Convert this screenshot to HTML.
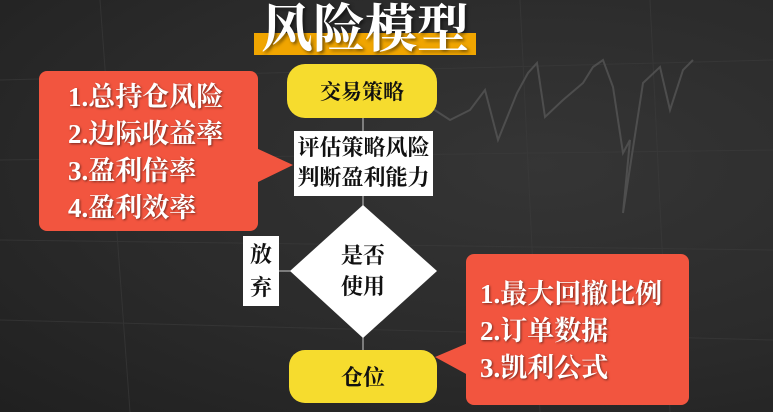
<!DOCTYPE html>
<html><head><meta charset="utf-8"><style>
body{margin:0;width:773px;height:412px;overflow:hidden;background:#2b2b2b;font-family:"Liberation Serif","Noto Serif CJK SC",serif;}
#stage{position:relative;width:773px;height:412px;background:radial-gradient(ellipse at 70% 40%,#353535 0%,#2b2b2b 55%,#202020 100%);}
.abs{position:absolute;}
.callout-text{color:#fff;font-weight:bold;font-size:27px;text-shadow:1px 1px 2px rgba(0,0,0,.5);line-height:37px;white-space:nowrap;}
</style></head><body>
<div id="stage">
<svg class="abs" style="left:0;top:0" width="773" height="412">
 <g stroke="#3c3c3c" stroke-width="1" opacity=".6">
  <line x1="0" y1="80" x2="773" y2="60"/><line x1="0" y1="160" x2="773" y2="150"/>
  <line x1="0" y1="240" x2="773" y2="250"/><line x1="0" y1="320" x2="773" y2="340"/>
  <line x1="100" y1="0" x2="130" y2="412"/><line x1="520" y1="0" x2="540" y2="412"/><line x1="650" y1="0" x2="670" y2="412"/>
 </g>
 <polyline fill="none" stroke="#555" stroke-width="2" opacity=".8" points="430,107 450,120 470,110 485,90 498,140 517,93 528,73 537,63 545,117 563,100 583,83 593,67 603,60 613,87 623,153 630,140 623,213 643,83 660,67 670,110 683,70 693,60"/>
</svg>
<div class="abs" style="left:254px;top:33px;width:222px;height:22px;background:#f0a500"></div>
<div class="abs" style="left:254px;top:3px;width:222px;text-align:center;color:#fff;font-weight:bold;font-size:52px;line-height:56px;text-shadow:2px 2px 3px rgba(0,0,0,.5)">风险模型</div>

<svg class="abs" style="left:0;top:0" width="773" height="412">
 <line x1="363" y1="117" x2="363" y2="132" stroke="#ccc" stroke-width="1"/>
 <line x1="363" y1="196" x2="363" y2="206" stroke="#ccc" stroke-width="1"/>
 <line x1="363" y1="337" x2="363" y2="351" stroke="#ccc" stroke-width="1"/>
 <line x1="279" y1="271" x2="291" y2="271" stroke="#ccc" stroke-width="1"/>
 <polygon points="363,205 437,271 363,338 290,271" fill="#fff"/>
 <polygon points="256,148 293,165 256,183" fill="#f2553f"/>
 <polygon points="468,343 435,357 468,375" fill="#f2553f"/>
</svg>

<div class="abs" style="left:287px;top:64px;width:150px;height:54px;border-radius:18px;background:#f6dc2e;display:flex;align-items:center;justify-content:center;font-weight:bold;font-size:21px;color:#111">交易策略</div>
<div class="abs" style="left:294px;top:131px;width:139px;height:65px;background:#fff;font-weight:bold;font-size:22px;line-height:30px;text-align:center;color:#111;padding-top:2px;box-sizing:border-box">评估策略风险<br>判断盈利能力</div>
<div class="abs" style="left:320px;top:240px;width:86px;text-align:center;font-weight:bold;font-size:22px;line-height:31px;color:#111">是否<br>使用</div>
<div class="abs" style="left:243px;top:236px;width:36px;height:70px;background:#fff;font-weight:bold;font-size:22px;line-height:33px;text-align:center;color:#111;padding-top:2px;box-sizing:border-box">放<br>弃</div>
<div class="abs" style="left:289px;top:350px;width:148px;height:53px;border-radius:16px;background:#f6dc2e;display:flex;align-items:center;justify-content:center;font-weight:bold;font-size:22px;color:#111">仓位</div>

<div class="abs callout-text" style="left:39px;top:71px;width:219px;height:160px;background:#f2553f;border-radius:8px;padding:8px 0 0 29px;box-sizing:border-box">1.总持仓风险<br>2.边际收益率<br>3.盈利倍率<br>4.盈利效率</div>
<div class="abs callout-text" style="left:466px;top:254px;width:223px;height:151px;background:#f2553f;border-radius:8px;padding:22px 0 0 14px;box-sizing:border-box">1.最大回撤比例<br>2.订单数据<br>3.凯利公式</div>
</div>
</body></html>
